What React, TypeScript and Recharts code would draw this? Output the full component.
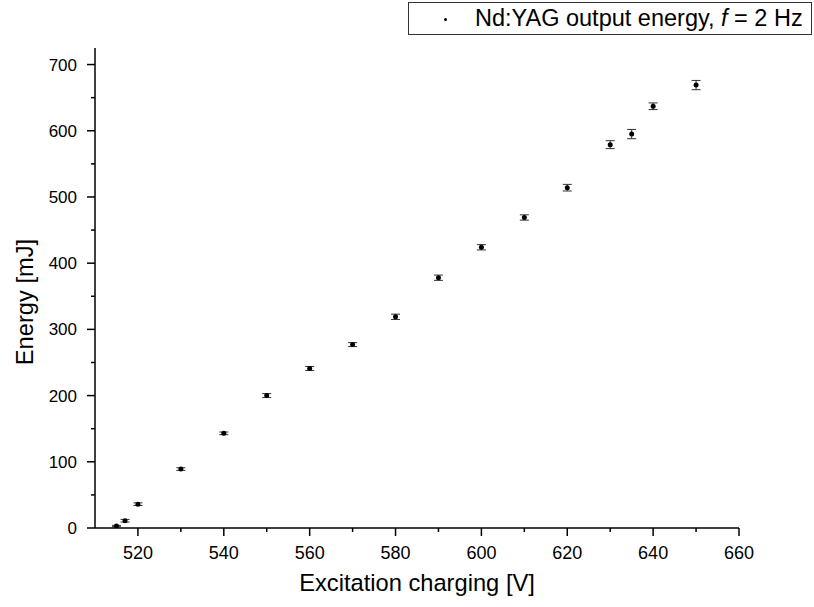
import { ScatterChart, Scatter, XAxis, YAxis, ErrorBar, Legend, Label } from "recharts";

const voltages = [515, 517, 520, 530, 540, 550, 560, 570, 580, 590, 600, 610, 620, 630, 635, 640, 650];
const energies = [3, 11, 36, 89, 143, 200, 241, 277, 319, 378, 424, 469, 514, 579, 595, 637, 669];
const errors = [1, 2, 2, 2, 2, 3, 3, 3, 4, 4, 4, 4, 5, 6, 7, 5, 7];

const xTicks = [520, 530, 540, 550, 560, 570, 580, 590, 600, 610, 620, 630, 640, 650, 660];
const yTicks = [0, 50, 100, 150, 200, 250, 300, 350, 400, 450, 500, 550, 600, 650, 700];

const FONT = '"Liberation Sans", Arial, sans-serif';

const data = voltages.map((v, i) => ({ v, e: energies[i], err: errors[i] }));

const XTick = (props: any) => {
  const { x, y, payload } = props;
  const major = payload.value % 20 === 0;
  return (
    <g>
      <line x1={x} y1={y} x2={x} y2={y + (major ? 8 : 4)} stroke="#000" strokeWidth={1.5} />
      {major && (
        <text x={x} y={y + 31} textAnchor="middle" fontSize={18} fontFamily={FONT} fill="#000">
          {payload.value}
        </text>
      )}
    </g>
  );
};

const YTick = (props: any) => {
  const { x, y, payload } = props;
  const major = payload.value % 100 === 0;
  return (
    <g>
      <line x1={x - (major ? 8 : 4)} y1={y} x2={x} y2={y} stroke="#000" strokeWidth={1.5} />
      {major && (
        <text x={x - 18} y={y + 6} textAnchor="end" fontSize={17} fontFamily={FONT} fill="#000">
          {payload.value}
        </text>
      )}
    </g>
  );
};

const Dot = (props: any) => <circle cx={props.cx} cy={props.cy} r={2.5} fill="#000" />;

const LegendBox = () => (
  <div
    style={{
      boxSizing: "border-box",
      width: 404,
      height: 33,
      border: "1px solid #333",
      background: "#fff",
      position: "relative",
      fontFamily: FONT,
      fontSize: 23.5,
      color: "#000",
    }}
  >
    <span
      style={{
        position: "absolute",
        left: 35,
        top: 15,
        width: 3,
        height: 3,
        borderRadius: "50%",
        background: "#000",
      }}
    />
    <span style={{ position: "absolute", left: 66, top: 2, whiteSpace: "nowrap", lineHeight: "27px" }}>
      Nd:YAG output energy, <i>f</i> = 2 Hz
    </span>
  </div>
);

export default function App() {
  return (
    <div style={{ position: "absolute", left: 0, top: 0, width: 814, height: 607, background: "#fff" }}>
      <ScatterChart width={814} height={607} margin={{ top: 48, right: 75, left: 0, bottom: 19 }}>
        <XAxis
          type="number"
          dataKey="v"
          domain={[510, 660]}
          ticks={xTicks}
          interval={0}
          height={60}
          tickSize={0}
          tickMargin={0}
          tickLine={false}
          tick={<XTick />}
          axisLine={{ stroke: "#000", strokeWidth: 1.5 }}
          allowDataOverflow
        >
          <Label
            content={(p: any) => {
              const vb = p.viewBox;
              return (
                <text x={vb.x + vb.width / 2} y={591} textAnchor="middle" fontSize={23.7} fontFamily={FONT} fill="#000">
                  Excitation charging [V]
                </text>
              );
            }}
          />
        </XAxis>
        <YAxis
          type="number"
          dataKey="e"
          domain={[0, 725]}
          ticks={yTicks}
          interval={0}
          width={95}
          tickSize={0}
          tickMargin={0}
          tickLine={false}
          tick={<YTick />}
          axisLine={{ stroke: "#000", strokeWidth: 1.5 }}
          allowDataOverflow
        >
          <Label
            content={() => (
              <text
                x={33}
                y={302}
                transform="rotate(-90 33 302)"
                textAnchor="middle"
                fontSize={23.7}
                fontFamily={FONT}
                fill="#000"
              >
                Energy [mJ]
              </text>
            )}
          />
        </YAxis>
        <Legend
          layout="horizontal"
          verticalAlign="middle"
          align="center"
          content={<LegendBox />}
          wrapperStyle={{ top: 2, left: 408, width: 404, height: 33 }}
        />
        <Scatter data={data} shape={<Dot />} isAnimationActive={false} name="Nd:YAG output energy">
          <ErrorBar dataKey="err" direction="y" width={4.5} stroke="#333" strokeWidth={1} isAnimationActive={false} />
        </Scatter>
      </ScatterChart>
    </div>
  );
}
